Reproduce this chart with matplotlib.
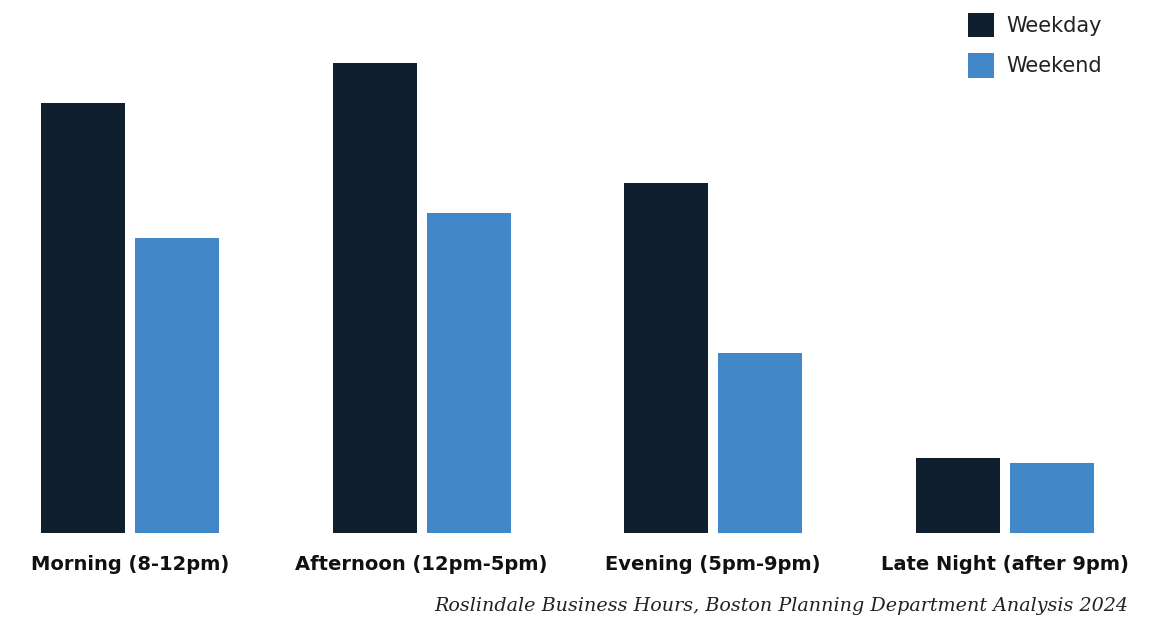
import numpy as np
import matplotlib.pyplot as plt

# data (share of businesses open, approx. %)
periods = ['Morning (8-12pm)', 'Afternoon (12pm-5pm)', 'Evening (5pm-9pm)', 'Late Night (after 9pm)']
weekday = [86, 94, 70, 15]
weekend = [59, 64, 36, 14]

navy = '#0f1f2e'
blue = '#4287c7'

fig = plt.figure(figsize=(11.53, 6.18), dpi=100)
ax = fig.add_axes([0, 85 / 618, 1, 533 / 618])

x = np.arange(len(periods))
w = 84 / 291.5
off = 47 / 291.5
ax.bar(x - off, weekday, width=w, color=navy, label='Weekday')
ax.bar(x + off, weekend, width=w, color=blue, label='Weekend')

ax.set_xlim(-130 / 291.5, (1153 - 130) / 291.5)
ax.set_ylim(0, 533 / 5)
for s in ax.spines.values():
    s.set_visible(False)
ax.set_yticks([])
ax.set_xticks(x)
ax.set_xticklabels(periods, fontsize=14, fontweight='bold', color='#111111')
ax.tick_params(axis='x', length=0, pad=16)

leg = ax.legend(loc='upper right', bbox_to_anchor=(1114 / 1153, 1.0), bbox_transform=fig.transFigure,
                frameon=False, fontsize=15, handlelength=1.25, handleheight=1.45,
                handletextpad=0.55, labelspacing=0.75, borderaxespad=0.2)
for t in leg.get_texts():
    t.set_color('#222222')

fig.text(1128 / 1153, 3 / 618, 'Roslindale Business Hours, Boston Planning Department Analysis 2024',
         ha='right', va='bottom', fontsize=13.8, style='italic', family='DejaVu Serif', color='#222222')

fig.savefig('out.png', dpi=100)
